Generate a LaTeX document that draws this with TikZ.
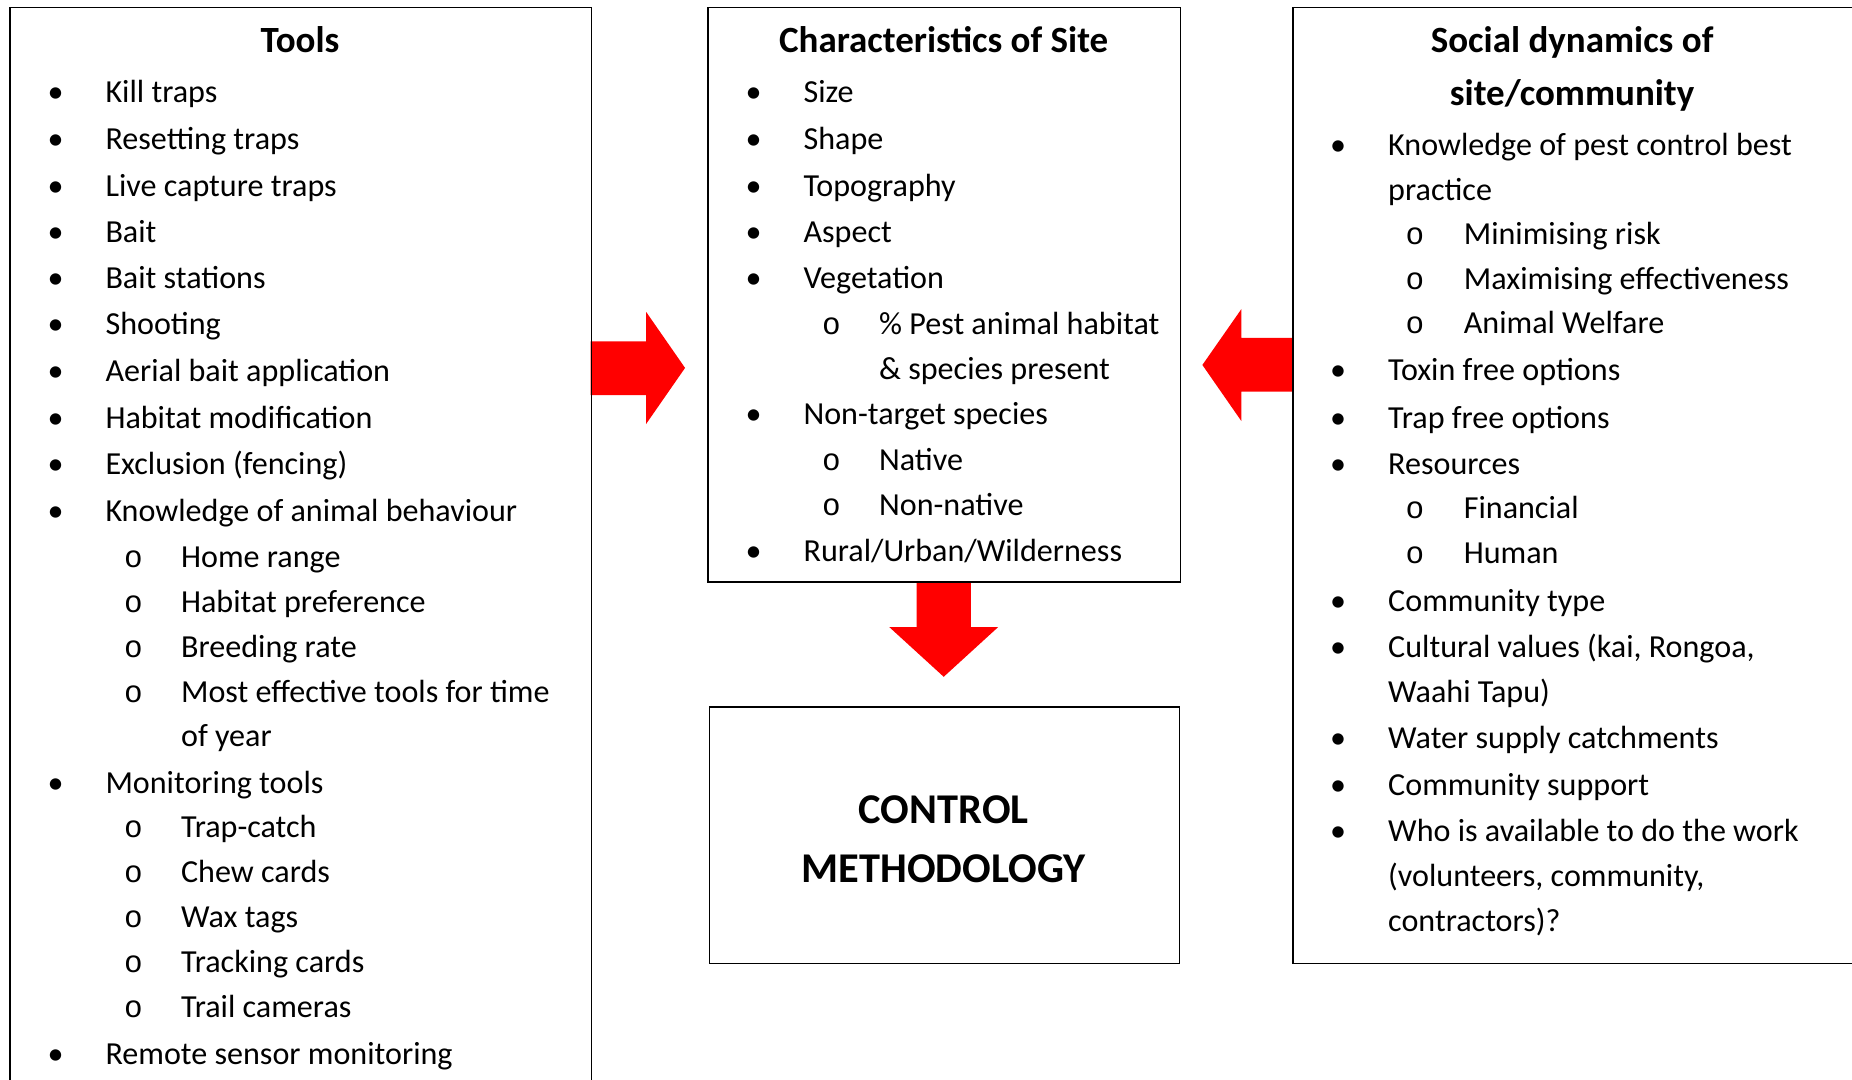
\documentclass[tikz,border=0pt]{standalone}
\usepackage{fontspec}
\setmainfont{Carlito}
\newfontfamily\submono{Liberation Mono}
\def\pxu{0.59055pt}
\newcommand\itemlist[6]{%
  \foreach \yy/\lv/\itemtext [count=\kk] in {#6} {%
    \ifnum\lv=1
      \node[bul] (#1b\kk) at (#2,\yy+9.4) {\textbullet};
      \node[body] (#1t\kk) at (#3,\yy+9.4) {\itemtext};
    \fi
    \ifnum\lv=2
      \node[subbul] (#1b\kk) at (#4,\yy+9.4) {o};
      \node[body] (#1t\kk) at (#5,\yy+9.4) {\itemtext};
    \fi
    \ifnum\lv=0
      \node[body] (#1t\kk) at (#3,\yy+9.4) {\itemtext};
    \fi
    \ifnum\lv=3
      \node[body] (#1t\kk) at (#5,\yy+9.4) {\itemtext};
    \fi
  }}
\begin{document}
\begin{tikzpicture}[x=\pxu,y=-\pxu,
  box/.style={draw=black, line width=0.7pt, anchor=north west, inner sep=0pt},
  body/.style={font=\fontsize{16.05}{19}\selectfont, inner sep=0pt, anchor=base west},
  bul/.style={font=\fontsize{16.05}{19}\selectfont, inner sep=0pt, anchor=base},
  subbul/.style={font=\submono\fontsize{15.5}{19}\selectfont, inner sep=0pt, anchor=base},
  titletext/.style={font=\bfseries\fontsize{18.5}{22}\selectfont, inner sep=0pt, anchor=base},
  ctrltext/.style={font=\bfseries\fontsize{21.2}{25}\selectfont, inner sep=0pt, anchor=base},
  blockarrow/.style={fill=red, draw=none}]
\useasboundingbox (0,0) rectangle (1568,914);
\clip (0,0) rectangle (1568,914);
\fill[white] (0,0) rectangle (1568,914);

% block arrows
\fill[blockarrow] (500,289) -- (547,289) -- (547,264) -- (580,311.5) -- (547,359) -- (547,334.5) -- (500,334.5) -- cycle;
\fill[blockarrow] (776,492) -- (822,492) -- (822,531) -- (845,531) -- (799,573) -- (753,531) -- (776,531) -- cycle;
\fill[blockarrow] (1094,286) -- (1051,286) -- (1051,261.7) -- (1018,309) -- (1051,356.5) -- (1051,331.6) -- (1094,331.6) -- cycle;

% boxes
\node[box, minimum width={492*\pxu}, minimum height={940*\pxu}] (tools) at (8,6) {};
\node[box, minimum width={400*\pxu}, minimum height={486*\pxu}] (site) at (599,6) {};
\node[box, minimum width={398*\pxu}, minimum height={217*\pxu}] (control) at (600,598) {};
\node[box, minimum width={490*\pxu}, minimum height={809*\pxu}] (social) at (1094,6) {};

% titles
\node[titletext] (toolstitle) at (254,44.5) {Tools};
\node[titletext] (sitetitle) at (799,44.5) {Characteristics of Site};
\node[titletext] (socialtitleA) at (1331,44.5) {Social dynamics of};
\node[titletext] (socialtitleB) at (1331,89.5) {site/community};
\node[ctrltext] (ctrlA) at (799,697) {CONTROL};
\node[ctrltext] (ctrlB) at (799,747) {METHODOLOGY};

% lists
\itemlist{tl}{47}{89}{113}{153}{77/1/Kill traps, 117/1/Resetting traps, 157/1/Live capture traps, 196/1/Bait, 235/1/Bait stations, 274/1/Shooting, 314/1/Aerial bait application, 353/1/Habitat modification, 392/1/{Exclusion (fencing)}, 432/1/Knowledge of animal behaviour, 471/2/Home range, 509/2/Habitat preference, 547/2/Breeding rate, 585/2/Most effective tools for time, 623/3/of year, 662/1/Monitoring tools, 700/2/Trap-catch, 738/2/Chew cards, 776/2/Wax tags, 814/2/Tracking cards, 852/2/Trail cameras, 892/1/Remote sensor monitoring}

\itemlist{st}{638}{680}{704}{744}{77/1/Size, 117/1/Shape, 157/1/Topography, 196/1/Aspect, 235/1/Vegetation, 274/2/{\% Pest animal habitat}, 312/3/{\& species present}, 350/1/Non-target species, 389/2/Native, 427/2/Non-native, 466/1/{Rural/Urban/Wilderness}}

\itemlist{sd}{1133}{1175}{1198}{1239}{122/1/Knowledge of pest control best, 160/0/practice, 198/2/Minimising risk, 236/2/Maximising effectiveness, 273/2/Animal Welfare, 313/1/Toxin free options, 353/1/Trap free options, 392/1/Resources, 430/2/Financial, 468/2/Human, 508/1/Community type, 547/1/{Cultural values (kai, Rongoa,}, 585/0/{Waahi Tapu)}, 624/1/Water supply catchments, 664/1/Community support, 703/1/Who is available to do the work, 741/0/{(volunteers, community,}, 779/0/{contractors)?}}
\end{tikzpicture}
\end{document}
